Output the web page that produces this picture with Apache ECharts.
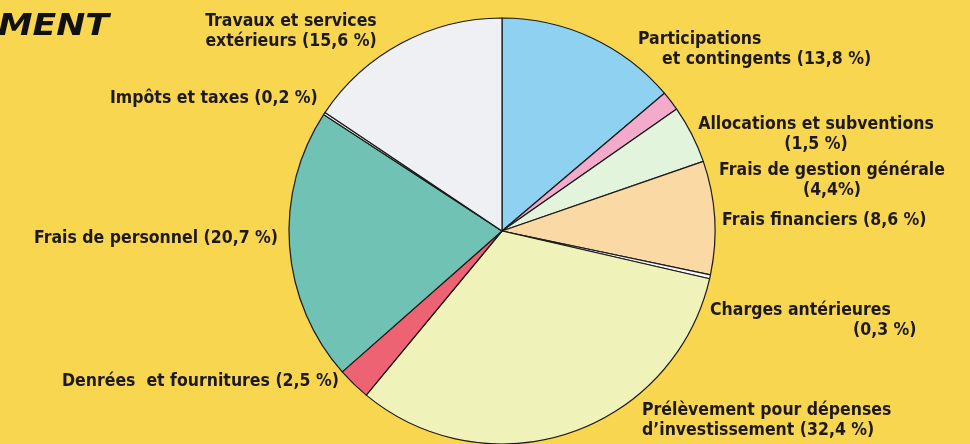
<!DOCTYPE html>
<html>
<head>
<meta charset="utf-8">
<script src="https://cdn.jsdelivr.net/npm/echarts@6/dist/echarts.min.js"></script>
<style>
html,body{margin:0;padding:0;background:#F9D64F;}
#chart{width:970px;height:444px;}
</style>
</head>
<body>
<div id="chart"></div>
<script>
const categories = [
  'Participations et contingents',
  'Allocations et subventions',
  'Frais de gestion générale',
  'Frais financiers',
  'Charges antérieures',
  'Prélèvement pour dépenses d’investissement',
  'Denrées et fournitures',
  'Frais de personnel',
  'Impôts et taxes',
  'Travaux et services extérieurs'
];
const values = [13.8, 1.5, 4.4, 8.6, 0.3, 32.4, 2.5, 20.7, 0.2, 15.6];
const labelTexts = [
  'Participations\n{p|et contingents (V %)}',
  'Allocations et subventions\n(V %)',
  'Frais de gestion générale\n(V%)',
  'Frais financiers (V %)',
  'Charges antérieures\n{c|(V %)}',
  'Prélèvement pour dépenses\nd’investissement (V %)',
  'Denrées  et fournitures (V %)',
  'Frais de personnel (V %)',
  'Impôts et taxes (V %)',
  'Travaux et services\nextérieurs (V %)'
];
const titleText = 'MENT';

// styles / layout (not data)
const colors = ['#8FD1F0', '#F4AACB', '#E3F4DC', '#FBD9A4', '#FAFAF6', '#EFF3BA', '#EE6373', '#70C3B4', '#F8F8F8', '#EEF0F3'];
const labelPos = [
  {x: 638, y: 29, align: 'left'},
  {x: 816, y: 114, align: 'center'},
  {x: 832, y: 160, align: 'center'},
  {x: 722, y: 210, align: 'left'},
  {x: 710, y: 300, align: 'left'},
  {x: 642, y: 400, align: 'left'},
  {x: 62, y: 371, align: 'left'},
  {x: 34, y: 228, align: 'left'},
  {x: 110, y: 88, align: 'left'},
  {x: 291, y: 11, align: 'center'}
];

const FONT = '"Liberation Sans Narrow", "DejaVu Sans Condensed", "Liberation Sans", sans-serif';
const textStyleBase = {fontFamily: FONT, fontWeight: 'bold', fontSize: 17.5, color: '#1E1A1A', lineHeight: 20};

const chart = echarts.init(document.getElementById('chart'));
chart.setOption({
  backgroundColor: '#F9D64F',
  animation: false,
  graphic: [{
    type: 'text',
    left: -2, top: 11,
    scaleX: 1.12,
    style: {
      text: titleText,
      font: 'italic bold 31px "DejaVu Sans", sans-serif',
      fill: '#111'
    }
  }],
  series: [{
    type: 'pie',
    center: [502, 231],
    radius: 213,
    startAngle: 90,
    clockwise: true,
    avoidLabelOverlap: false,
    itemStyle: {borderColor: '#1a1a1a', borderWidth: 1.2},
    emphasis: {disabled: true},
    labelLine: {show: false},
    label: Object.assign({
      show: true,
      position: 'outside',
      formatter: function (p) {
        const v = p.value.toFixed(1).replace('.', ',');
        return labelTexts[p.dataIndex].replace('V', v);
      },
      rich: {
        p: Object.assign({}, textStyleBase, {padding: [0, 0, 0, 24]}),
        c: Object.assign({}, textStyleBase, {padding: [0, 0, 0, 143]})
      }
    }, textStyleBase),
    labelLayout: function (params) {
      const lp = labelPos[params.dataIndex];
      return {x: lp.x, y: lp.y, align: lp.align, verticalAlign: 'top'};
    },
    data: categories.map((c, i) => ({
      name: c,
      value: values[i],
      itemStyle: {color: colors[i]}
    }))
  }]
});
</script>
</body>
</html>
